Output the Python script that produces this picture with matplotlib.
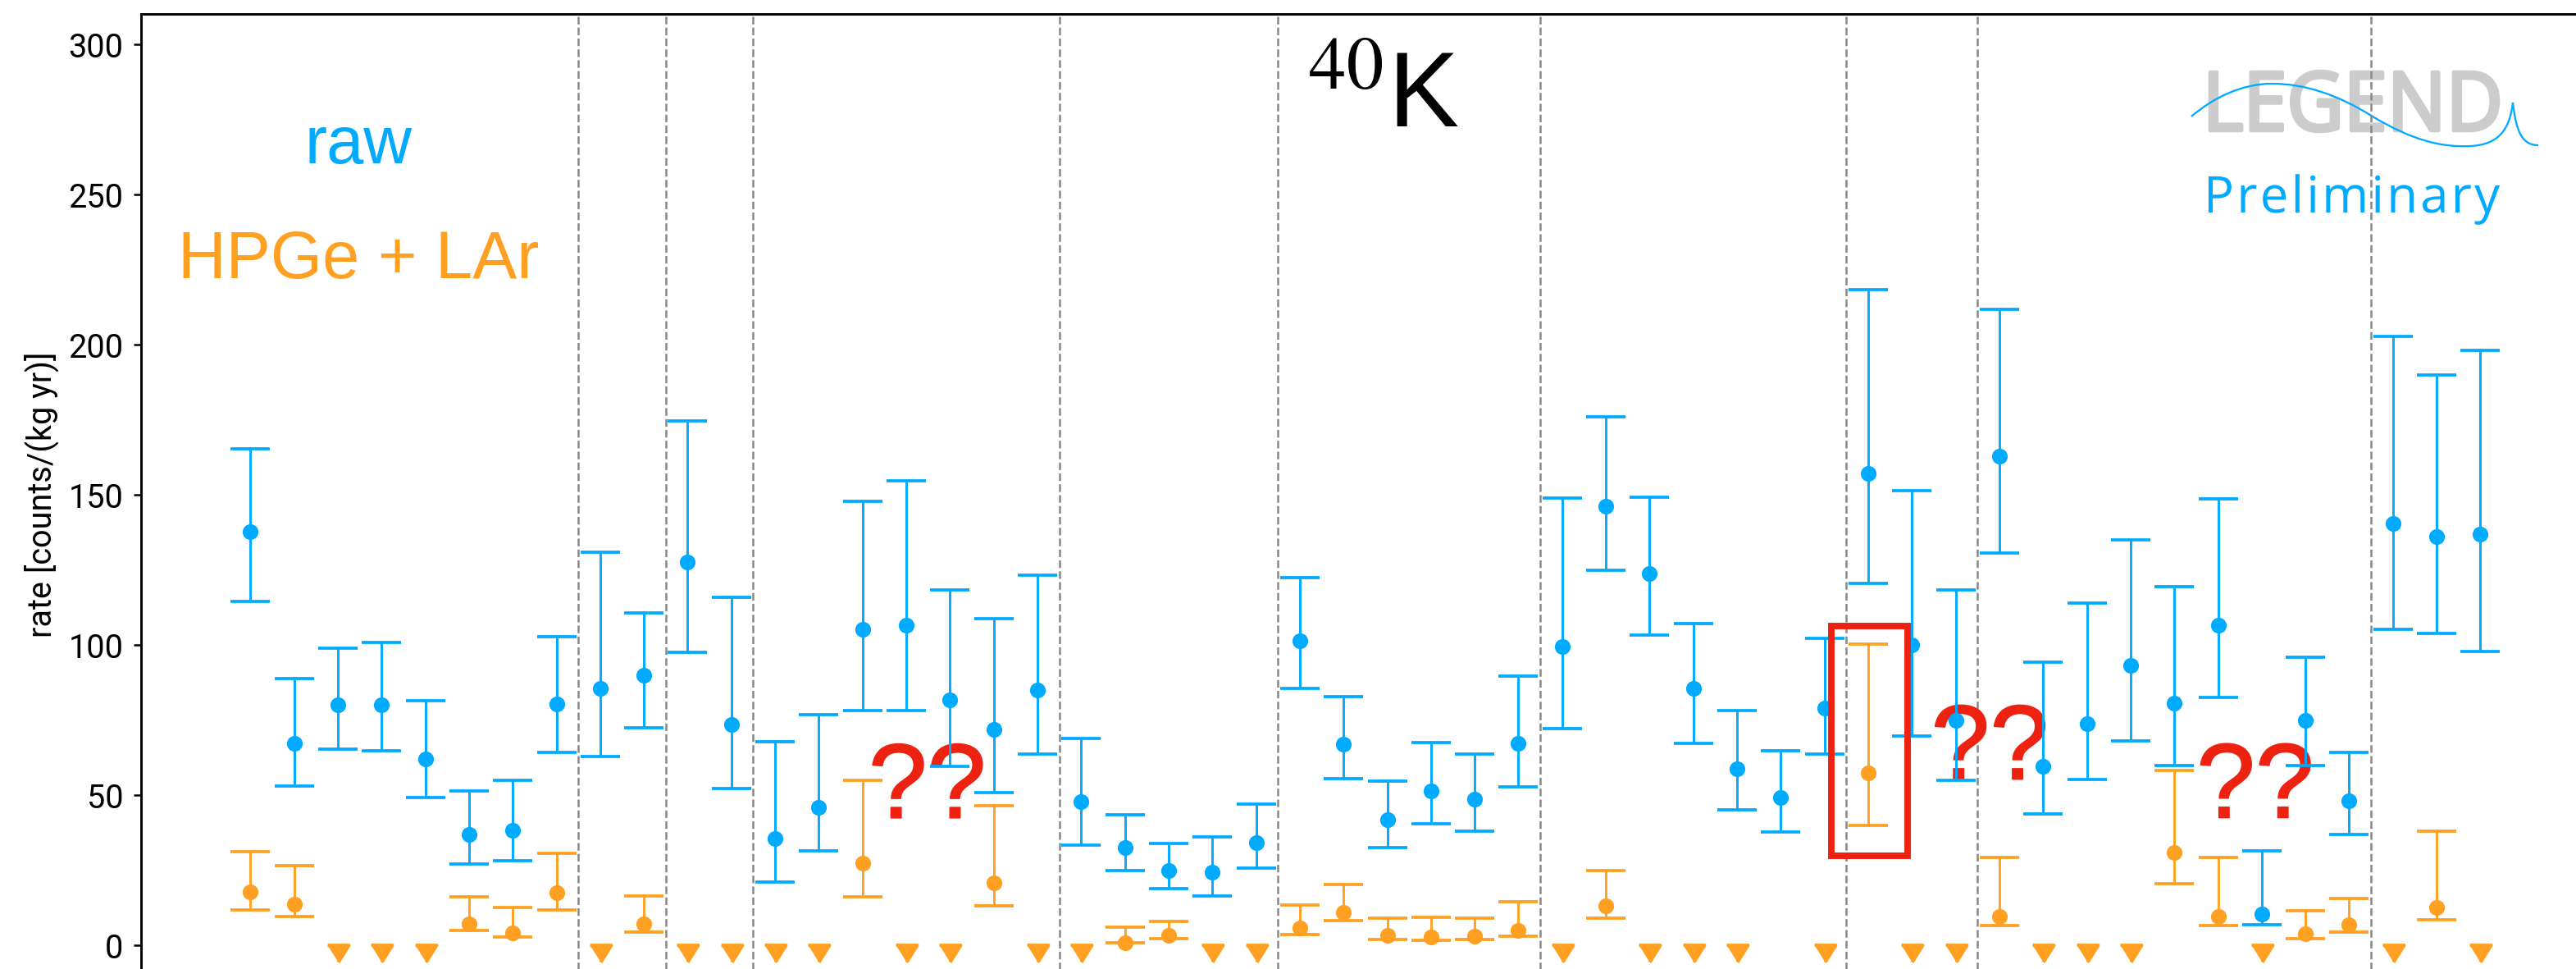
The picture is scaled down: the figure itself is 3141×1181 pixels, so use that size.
import numpy as np
import matplotlib
matplotlib.use("Agg")
import matplotlib.pyplot as plt
import matplotlib.patheffects as pe
from matplotlib.patches import Rectangle, PathPatch
from matplotlib.path import Path
from matplotlib.textpath import TextPath, text_to_path
from matplotlib.font_manager import FontProperties
from matplotlib.transforms import Affine2D

# raw rate per detector: central value, lower and upper end of the error bar
raw_rate = [137.7, 67.1, 80.0, 80.0, 61.9, 37.0, 38.2, 80.4, 85.4, 89.8,
            127.7, 73.4, 35.6, 46.0, 105.2, 106.6, 81.8, 71.8, 84.9, 47.8,
            32.6, 25.0, 24.3, 34.2, 101.5, 66.9, 41.8, 51.4, 48.7, 67.3,
            99.4, 146.2, 123.7, 85.6, 58.7, 49.1, 79.1, 157.1, 99.9, 75.0,
            162.8, 59.7, 73.9, 93.2, 80.6, 106.5, 10.5, 75.0, 48.2, 140.4,
            136.1, 137.0]
raw_lo = [114.4, 52.9, 65.3, 64.7, 49.2, 27.1, 28.1, 64.2, 62.8, 72.3,
          97.6, 52.2, 21.0, 31.5, 78.1, 78.1, 59.5, 50.8, 63.7, 33.3,
          25.0, 18.9, 16.3, 25.8, 85.6, 55.5, 32.4, 40.5, 38.0, 52.8,
          72.0, 124.8, 103.2, 67.3, 45.0, 37.8, 63.6, 120.5, 69.7, 55.0,
          130.5, 43.7, 55.1, 68.0, 59.9, 82.6, 6.8, 59.9, 36.9, 105.1,
          103.9, 97.7]
raw_hi = [165.2, 88.7, 99.0, 100.7, 81.4, 51.5, 55.0, 102.6, 130.8, 110.7,
          174.5, 115.8, 67.7, 76.7, 147.7, 154.6, 118.4, 108.8, 123.1, 68.9,
          43.4, 33.8, 36.2, 47.0, 122.5, 82.7, 54.6, 67.6, 63.7, 89.5,
          149.0, 176.0, 149.3, 107.0, 78.2, 64.7, 102.1, 218.4, 151.3, 118.2,
          211.8, 94.4, 113.8, 134.9, 119.5, 148.6, 31.4, 96.0, 64.1, 202.6,
          190.0, 198.2]

# HPGe + LAr: detectors with a measured rate
lar_det = [0, 1, 5, 6, 7, 9, 14, 17, 20, 21, 24, 25, 26, 27, 28, 29, 31, 37,
           40, 44, 45, 47, 48, 50]
lar_rate = [17.8, 13.6, 7.1, 4.2, 17.4, 7.1, 27.3, 20.8, 0.9, 3.3, 5.8, 10.9,
            3.2, 2.8, 3.0, 4.9, 13.0, 57.5, 9.6, 30.8, 9.6, 3.9, 6.8, 12.6]
lar_lo = [11.8, 9.5, 4.8, 2.8, 11.8, 4.3, 16.0, 13.0, 0.7, 2.1, 3.5, 8.2,
          2.0, 1.7, 1.8, 3.1, 8.9, 39.9, 6.6, 20.4, 6.6, 2.3, 4.4, 8.6]
lar_hi = [31.1, 26.5, 16.0, 12.6, 30.6, 16.3, 55.0, 46.4, 5.9, 7.9, 13.4, 20.2,
          9.1, 9.4, 8.9, 14.6, 25.0, 100.2, 29.2, 58.1, 29.2, 11.6, 15.6, 37.9]
# HPGe + LAr: detectors with only an upper limit
lar_limit_det = [2, 3, 4, 8, 10, 11, 12, 13, 15, 16, 18, 19, 22, 23, 30, 32,
                 33, 34, 36, 38, 39, 41, 42, 43, 46, 49, 51]

# string boundaries
string_edges = [7.5, 9.5, 11.5, 18.5, 23.5, 29.5, 36.5, 39.5, 48.5]
yticks = [0, 50, 100, 150, 200, 250, 300]

BLUE = "#00AAFF"
ORANGE = "#FFA023"
RED = "#EE2211"
LIMIT_Y = -2.8

plt.rcParams["font.family"] = ["Roboto", "DejaVu Sans"]
plt.rcParams["font.weight"] = "normal"
plt.rcParams["mathtext.fontset"] = "stix"

W, H, DPI = 3141, 1181, 300
fig = plt.figure(figsize=(W / DPI, H / DPI), dpi=DPI)
ax = fig.add_axes([0.05476, -0.00644, 0.96753, 0.99170])
ax.set_xlim(-2.5, 54.5)
ax.set_ylim(-10, 310)

det = np.arange(len(raw_rate))
r = np.array(raw_rate)
ax.errorbar(det, r, yerr=[r - np.array(raw_lo), np.array(raw_hi) - r],
            fmt="o", color=BLUE, ms=3.6, elinewidth=0.7, capsize=5.8,
            capthick=0.9, zorder=3)

l = np.array(lar_rate)
ax.errorbar(lar_det, l, yerr=[l - np.array(lar_lo), np.array(lar_hi) - l],
            fmt="o", color=ORANGE, ms=3.6, elinewidth=0.7, capsize=5.8,
            capthick=0.9, zorder=3)

tri = [(-1, 0.8), (1, 0.8), (0, -0.8)]
ax.plot(lar_limit_det, np.full(len(lar_limit_det), LIMIT_Y), ls="none",
        marker=tri, ms=6.2, color=ORANGE, zorder=3)

for e in string_edges:
    ax.axvline(e, color="#888888", lw=0.6, ls="--", zorder=1)

ax.set_yticks(yticks)
ax.set_xticks([])
ax.tick_params(axis="y", length=2.2, width=0.6, pad=3, labelsize=9.5,
               labelcolor="black")
for s in ax.spines.values():
    s.set_linewidth(0.7)
ax.set_ylabel("rate [counts/(kg yr)]", fontsize=9.5)
ax.yaxis.set_label_coords(-0.033, 0.5)

sans = ["Liberation Sans", "DejaVu Sans"]
ax.text(2.47, 260.4, "raw", color=BLUE, fontsize=19.5, family=sans,
        ha="center", va="baseline")
ax.text(2.47, 222.1, "HPGe + LAr", color=ORANGE, fontsize=19.5, family=sans,
        ha="center", va="baseline")
ax.text(25.9, 272.4, r"$^{40}$K", fontsize=31, family=sans,
        ha="center", va="baseline")

for qx, qy in [(15.48, 42.4), (39.78, 55.3), (45.85, 42.5)]:
    ax.text(qx, qy, "??", color=RED, fontsize=31, family=sans,
            ha="center", va="baseline", zorder=1.5,
            path_effects=[pe.withStroke(linewidth=0.4, foreground=RED)])

ax.add_patch(Rectangle((36.16, 29.8), 1.74, 76.6, fill=False, ec=RED,
                       lw=1.9, zorder=6, clip_on=False))

# LEGEND logo, laid out in pixel coordinates (y measured from the top)
to_fig = Affine2D().scale(1 / W, 1 / H) + fig.transFigure


def pix(x, y):
    return (x, H - y)


fp_logo = FontProperties(family=["Open Sans", "DejaVu Sans"], size=100)
tp = TextPath((0, 0), "LEGEND", prop=fp_logo)
ext = tp.get_extents()
x0, x1, top, bot = 2695, 3046, 87, 160
tr = (Affine2D().translate(-ext.x0, -ext.y0)
      .scale((x1 - x0) / ext.width, (bot - top) / ext.height)
      .translate(x0, H - bot) + to_fig)
ax.add_patch(PathPatch(tp, transform=tr, fc="#CCCCCC", ec="#CCCCCC",
                       lw=1.1, joinstyle="round", clip_on=False, zorder=0.5))

# spaced-out "Preliminary"
word = "Preliminary"
adv = [0.0] + [text_to_path.get_text_width_height_descent(word[:i], fp_logo, ismath=False)[0]
               for i in range(1, len(word))]
cap = TextPath((0, 0), "P", prop=fp_logo).get_extents().height
scale = (259 - 215) / cap
plain = Path.make_compound_path(*[TextPath((a, 0), ch, prop=fp_logo)
                                  for a, ch in zip(adv, word)])
track = ((3048 - 2693) / scale - plain.get_extents().width) / (len(word) - 1)
glyphs = Path.make_compound_path(*[TextPath((a + i * track, 0), ch, prop=fp_logo)
                                   for i, (a, ch) in enumerate(zip(adv, word))])
ge = glyphs.get_extents()
tr = (Affine2D().translate(-ge.x0, 0).scale(scale)
      .translate(2693, H - 259) + to_fig)
ax.add_patch(PathPatch(glyphs, transform=tr, fc=BLUE, ec="none",
                       clip_on=False, zorder=0.5))

# wave under the logo text
wave = [pix(2672, 142),
        pix(2700, 118), pix(2735, 102), pix(2770, 102),
        pix(2810, 102), pix(2850, 115), pix(2893, 142),
        pix(2940, 170), pix(2975, 180), pix(3013, 178),
        pix(3045, 176), pix(3060, 160), pix(3064, 125),
        pix(3068, 160), pix(3075, 177), pix(3095, 177)]
codes = [Path.MOVETO] + [Path.CURVE4] * 15
ax.add_patch(PathPatch(Path(wave, codes), transform=to_fig, fc="none",
                       ec=BLUE, lw=0.55, clip_on=False, zorder=0.5))

fig.savefig("out.png", dpi=DPI)
